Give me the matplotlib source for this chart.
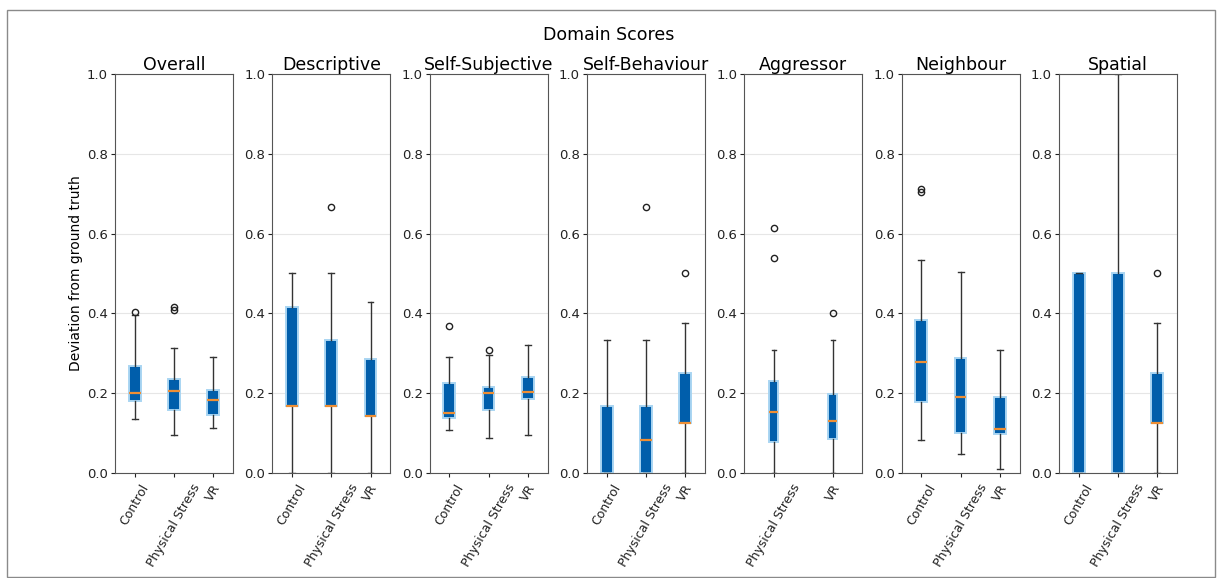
import matplotlib
matplotlib.use("Agg")
import matplotlib.pyplot as plt
from matplotlib.patches import Rectangle

# groups per panel
domains = ["Overall", "Descriptive", "Self-Subjective", "Self-Behaviour",
           "Aggressor", "Neighbour", "Spatial"]
groups_all = ["Control", "Physical Stress", "VR"]
groups_aggr = ["Physical Stress", "VR"]

# box statistics: one list per domain, one entry per group
q1 = [
    [0.181, 0.158, 0.145],
    [0.1667, 0.1667, 0.1429],
    [0.137, 0.158, 0.185],
    [0.0, 0.0, 0.125],
    [0.076, 0.084],
    [0.177, 0.099, 0.098],
    [0.0, 0.0, 0.125],
]
med = [
    [0.201, 0.204, 0.183],
    [0.1667, 0.1667, 0.1429],
    [0.151, 0.201, 0.202],
    [0.0, 0.0833, 0.125],
    [0.152, 0.131],
    [0.279, 0.19, 0.110],
    [0.0, 0.0, 0.125],
]
q3 = [
    [0.268, 0.235, 0.208],
    [0.4167, 0.3333, 0.2857],
    [0.226, 0.215, 0.241],
    [0.1667, 0.1667, 0.25],
    [0.229, 0.197],
    [0.383, 0.287, 0.191],
    [0.5, 0.5, 0.25],
]
whislo = [
    [0.135, 0.095, 0.112],
    [0.0, 0.0, 0.0],
    [0.108, 0.087, 0.094],
    [0.0, 0.0, 0.0],
    [0.0, 0.0],
    [0.081, 0.047, 0.009],
    [0.0, 0.0, 0.0],
]
whishi = [
    [0.396, 0.312, 0.291],
    [0.5, 0.5, 0.4286],
    [0.29, 0.296, 0.321],
    [0.3333, 0.3333, 0.375],
    [0.307, 0.3333],
    [0.534, 0.503, 0.308],
    [0.5, 1.0, 0.375],
]
fliers = [
    [[0.404], [0.408, 0.416], []],
    [[], [0.6667], []],
    [[0.367], [0.308], []],
    [[], [0.6667], [0.5]],
    [[0.538, 0.615], [0.4]],
    [[0.705, 0.712], [], []],
    [[], [], [0.5]],
]

fig, axes = plt.subplots(1, 7, figsize=(12.17, 5.78), dpi=100)
fig.subplots_adjust(left=0.0945, right=0.967, top=0.872, bottom=0.182, wspace=0.335)

for i, ax in enumerate(axes):
    labels = groups_aggr if domains[i] == "Aggressor" else groups_all
    stats = []
    for j, lab in enumerate(labels):
        stats.append(dict(label=lab, med=med[i][j], q1=q1[i][j], q3=q3[i][j],
                          whislo=whislo[i][j], whishi=whishi[i][j],
                          fliers=fliers[i][j]))
    bp = ax.bxp(stats, patch_artist=True,
                boxprops=dict(facecolor="#005eab", edgecolor="#a9d5f2", linewidth=1.4),
                medianprops=dict(color="#ee8f35", linewidth=1.6),
                whiskerprops=dict(color="#333333", linewidth=1.0),
                capprops=dict(color="#333333", linewidth=1.0),
                flierprops=dict(marker="o", markersize=4.5, markerfacecolor="none",
                                markeredgecolor="#222222", markeredgewidth=1.0))
    # medians sitting on the axis floor are not visible in the original
    for m in bp["medians"]:
        if max(m.get_ydata()) <= 0:
            m.set_visible(False)
    ax.set_ylim(0, 1.0)
    ax.set_yticks([0.0, 0.2, 0.4, 0.6, 0.8, 1.0])
    ax.yaxis.grid(True, color="#e6e6e6", linewidth=0.8)
    ax.set_axisbelow(True)
    ax.set_title(domains[i], fontsize=12.5, pad=3)
    ax.tick_params(axis="y", labelsize=9.5, colors="#222222", length=3, pad=2)
    ax.tick_params(axis="x", colors="#222222", length=3)
    ax.set_xticks(range(1, len(labels) + 1))
    ax.set_xticklabels(labels, rotation=60, ha="center", fontsize=9)
    for s in ax.spines.values():
        s.set_color("#555555")

axes[0].set_ylabel("Deviation from ground truth", fontsize=10, labelpad=3)
fig.suptitle("Domain Scores", fontsize=12.5, y=0.955)

# light frame around the whole figure
fig.patches.append(Rectangle((0.006, 0.002), 0.992, 0.981, transform=fig.transFigure,
                             fill=False, edgecolor="#8a8a8a", linewidth=1.0))

fig.savefig("out.png", dpi=100)
